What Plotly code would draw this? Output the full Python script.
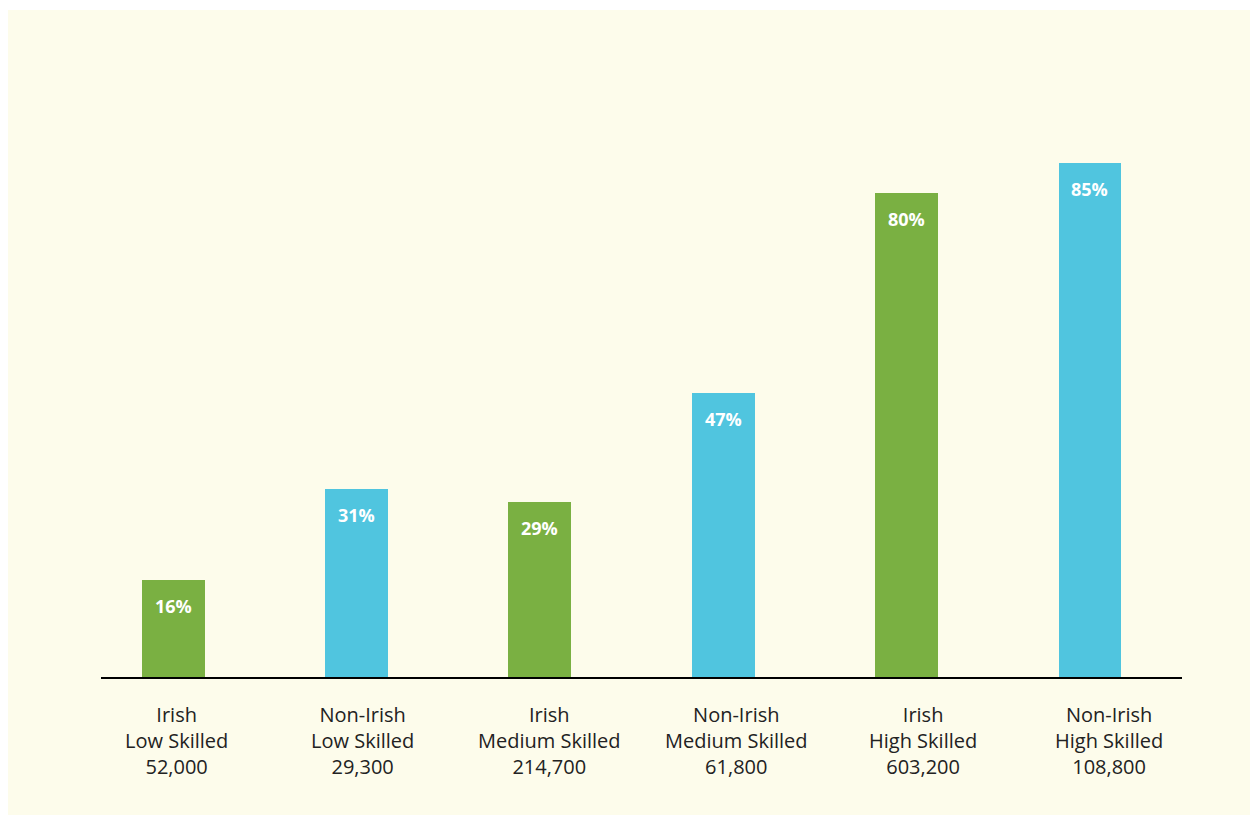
import plotly.graph_objects as go

groups = ["Irish", "Non-Irish", "Irish", "Non-Irish", "Irish", "Non-Irish"]
skills = ["Low Skilled", "Low Skilled", "Medium Skilled", "Medium Skilled", "High Skilled", "High Skilled"]
counts = ["52,000", "29,300", "214,700", "61,800", "603,200", "108,800"]
percents = [16, 31, 29, 47, 80, 85]
colors = ["#7AB042", "#50C5DF", "#7AB042", "#50C5DF", "#7AB042", "#50C5DF"]

x = list(range(len(percents)))

# page is rendered with an 8px body margin, so figure coords = page coords - 8
OFF = 8
W, H = 1258 - OFF, 816 - OFF
L, R, T, B = 101 - OFF, 1182 - OFF, 72 - OFF, 677 - OFF

fig = go.Figure(go.Bar(
    x=x, y=percents, marker=dict(color=colors, line=dict(width=0)),
    width=0.343, hoverinfo="skip", showlegend=False,
))

FONT = "Open Sans, Lato, sans-serif"
ann = []
for i, p in enumerate(percents):
    ann.append(dict(x=i, y=p, xref="x", yref="y", text=f"<b>{p}%</b>", showarrow=False,
                    yanchor="top", yshift=-12,
                    font=dict(family=FONT, size=18, color="white")))
    ann.append(dict(x=i, y=0, xref="x", yref="y", text=f"{groups[i]}<br>{skills[i]}<br>{counts[i]}",
                    showarrow=False, yanchor="top", yshift=-22, xshift=3 + 3.3 * i,
                    font=dict(family=FONT, size=20, color="#222222")))

pw, ph = R - L, B - T
fig.add_shape(type="rect", xref="paper", yref="paper", layer="below",
              x0=(5 - OFF - L) / pw, x1=(1258 - OFF - L) / pw,
              y0=(B - (815 - OFF)) / ph, y1=(B - (10 - OFF)) / ph,
              fillcolor="#FDFCEB", line=dict(width=0))

fig.update_layout(
    width=W, height=H,
    margin=dict(l=L, r=W - R, t=T, b=H - B, pad=0),
    paper_bgcolor="white", plot_bgcolor="rgba(0,0,0,0)",
    annotations=ann,
    xaxis=dict(range=[-0.393, 5.502], showticklabels=False, showgrid=False, zeroline=False,
               showline=True, linecolor="black", linewidth=2, ticks=""),
    yaxis=dict(range=[0, 100], visible=False, showgrid=False, zeroline=False),
    bargap=0,
)

fig.write_html("out.html")
